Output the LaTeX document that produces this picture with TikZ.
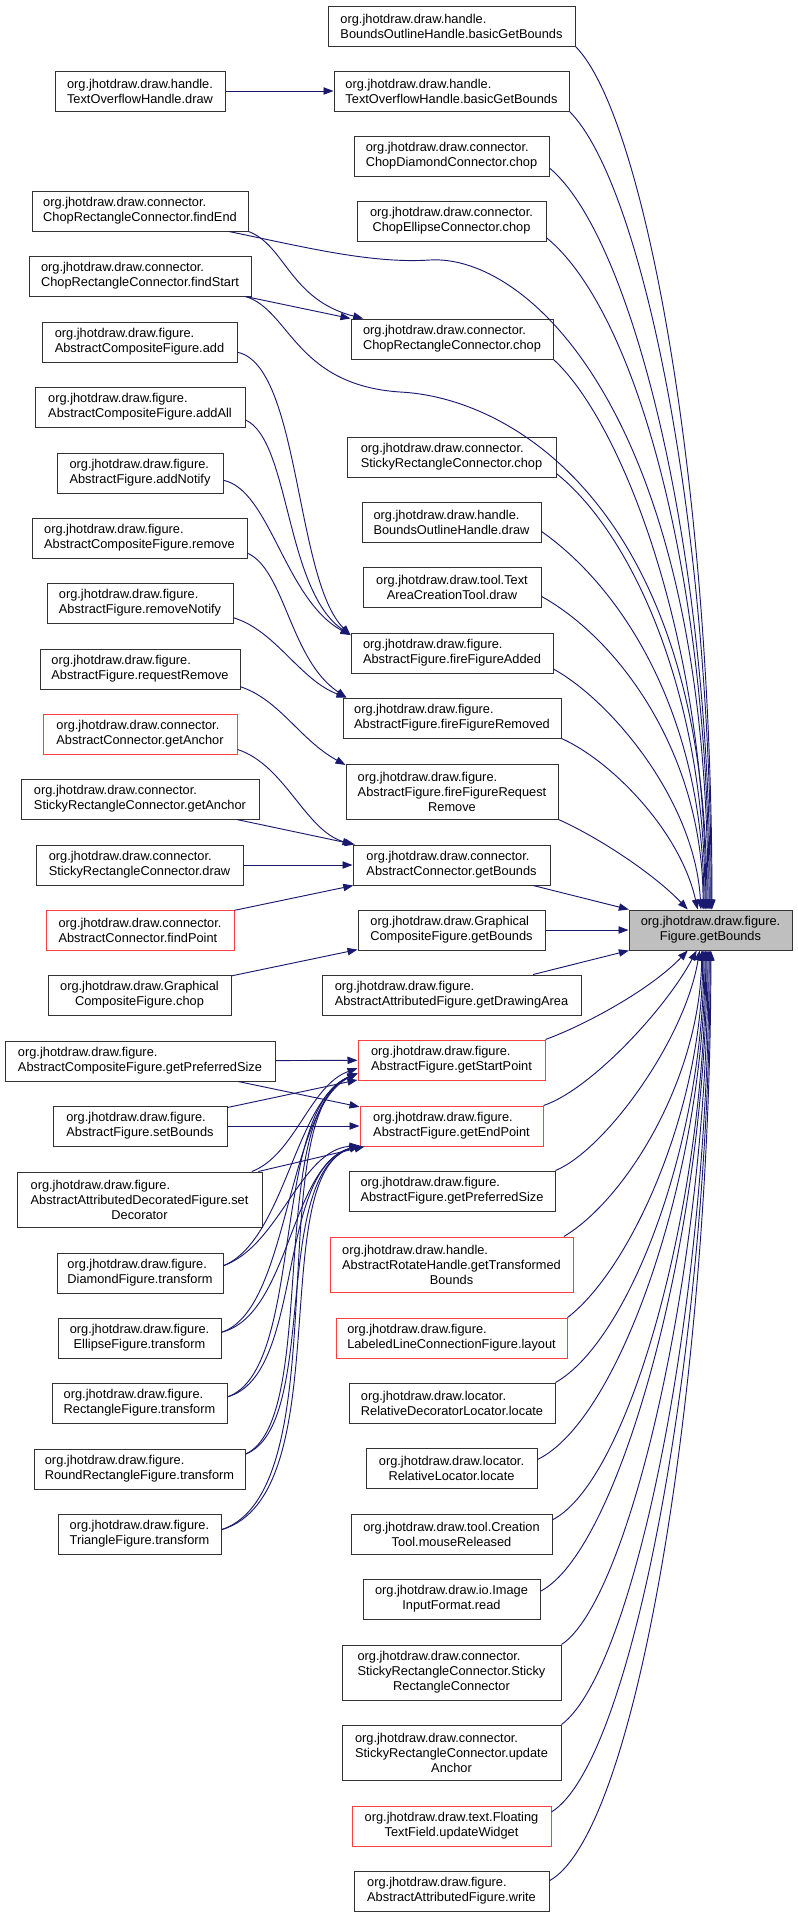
\documentclass[tikz,border=0pt]{standalone}
\usepackage{fontspec}
\setmainfont{Liberation Sans}
\usetikzlibrary{arrows.meta}

\definecolor{edgeblue}{HTML}{191970}
\definecolor{boxred}{HTML}{FF4040}
\definecolor{boxgray}{HTML}{BFBFBF}

\begin{document}
\begin{tikzpicture}[x=0.75pt, y=-0.75pt,
  fn/.style={draw=black!80, line width=0.75pt, fill=white, align=left, inner sep=0pt, minimum height=30pt, font=\fontsize{9.6}{11.25}\selectfont},
  fnred/.style={fn, draw=boxred},
  fnroot/.style={fn, fill=boxgray},
  call/.style={edgeblue, line width=0.7pt, -{Triangle[length=7.5pt,width=5.5pt]}}]

\useasboundingbox (0,0) rectangle (797,1917);

\node[fn, minimum width=185.25pt] (bohbgb) at (451.5,26) {org.jhotdraw.draw.handle.\\BoundsOutlineHandle.basicGetBounds};
\node[fn, minimum width=176.25pt] (tohbgb) at (451.5,91) {org.jhotdraw.draw.handle.\\TextOverflowHandle.basicGetBounds};
\node[fn, minimum width=127.5pt] (tohd) at (140,91) {org.jhotdraw.draw.handle.\\TextOverflowHandle.draw};
\node[fn, minimum width=146.25pt] (cdc) at (451.5,156) {org.jhotdraw.draw.connector.\\ChopDiamondConnector.chop};
\node[fn, minimum width=141.75pt] (cec) at (451.5,221) {org.jhotdraw.draw.connector.\\\hfil ChopEllipseConnector.chop};
\node[fn, minimum width=162pt] (crcfe) at (140,211) {org.jhotdraw.draw.connector.\\ChopRectangleConnector.findEnd};
\node[fn, minimum width=166.5pt] (crcfs) at (140,276) {org.jhotdraw.draw.connector.\\ChopRectangleConnector.findStart};
\node[fn, minimum width=151.5pt] (crcc) at (452,339) {org.jhotdraw.draw.connector.\\ChopRectangleConnector.chop};
\node[fn, minimum width=146.25pt] (acfadd) at (139.5,342) {org.jhotdraw.draw.figure.\\AbstractCompositeFigure.add};
\node[fn, minimum width=157.5pt] (acfaddall) at (140,407) {org.jhotdraw.draw.figure.\\AbstractCompositeFigure.addAll};
\node[fn, minimum width=156.75pt] (srcc) at (451.5,457) {org.jhotdraw.draw.connector.\\StickyRectangleConnector.chop};
\node[fn, minimum width=124.5pt] (afaddn) at (140,473) {org.jhotdraw.draw.figure.\\AbstractFigure.addNotify};
\node[fn, minimum width=134.25pt] (bohd) at (451.5,522) {org.jhotdraw.draw.handle.\\BoundsOutlineHandle.draw};
\node[fn, minimum width=161.25pt] (acfrem) at (139.5,538) {org.jhotdraw.draw.figure.\\AbstractCompositeFigure.remove};
\node[fn, minimum width=133.5pt] (tactd) at (452,587) {org.jhotdraw.draw.tool.Text\\\hfil AreaCreationTool.draw};
\node[fn, minimum width=139.5pt] (afremn) at (140,603) {org.jhotdraw.draw.figure.\\AbstractFigure.removeNotify};
\node[fn, minimum width=151.5pt] (afffa) at (452,653) {org.jhotdraw.draw.figure.\\AbstractFigure.fireFigureAdded};
\node[fn, minimum width=150pt] (afreqrem) at (140,669) {org.jhotdraw.draw.figure.\\AbstractFigure.requestRemove};
\node[fn, minimum width=163.5pt] (afffr) at (452,718) {org.jhotdraw.draw.figure.\\AbstractFigure.fireFigureRemoved};
\node[fnred, minimum width=145.5pt] (acga) at (140,734) {org.jhotdraw.draw.connector.\\AbstractConnector.getAnchor};
\node[fn, minimum width=159pt, minimum height=41.25pt] (afffrr) at (452,791.5) {org.jhotdraw.draw.figure.\\AbstractFigure.fireFigureRequest\\\hfil Remove};
\node[fn, minimum width=178.5pt] (srcga) at (140,799) {org.jhotdraw.draw.connector.\\StickyRectangleConnector.getAnchor};
\node[fn, minimum width=147.75pt] (acgb) at (451.5,865) {org.jhotdraw.draw.connector.\\AbstractConnector.getBounds};
\node[fn, minimum width=155.25pt] (srcd) at (139.5,865) {org.jhotdraw.draw.connector.\\StickyRectangleConnector.draw};
\node[fnred, minimum width=141pt] (acfp) at (140,930) {org.jhotdraw.draw.connector.\\AbstractConnector.findPoint};
\node[fn, minimum width=140.25pt] (gcfgb) at (451.5,930) {org.jhotdraw.draw.Graphical\\CompositeFigure.getBounds};
\node[fnroot, minimum width=122.25pt] (fgb) at (710.5,930) {org.jhotdraw.draw.figure.\\\hfil Figure.getBounds};
\node[fn, minimum width=137.25pt] (gcfc) at (139.5,995) {org.jhotdraw.draw.Graphical\\\hfil CompositeFigure.chop};
\node[fn, minimum width=194.25pt] (afgda) at (451.5,995) {org.jhotdraw.draw.figure.\\AbstractAttributedFigure.getDrawingArea};
\node[fn, minimum width=202.5pt] (acfgps) at (140,1061) {org.jhotdraw.draw.figure.\\AbstractCompositeFigure.getPreferredSize};
\node[fnred, minimum width=140.25pt] (afgsp) at (451.5,1060) {org.jhotdraw.draw.figure.\\AbstractFigure.getStartPoint};
\node[fn, minimum width=130.5pt] (afsb) at (140,1126) {org.jhotdraw.draw.figure.\\AbstractFigure.setBounds};
\node[fnred, minimum width=137.25pt] (afgep) at (451.5,1126) {org.jhotdraw.draw.figure.\\AbstractFigure.getEndPoint};
\node[fn, minimum width=183.75pt, minimum height=41.25pt] (aadfsd) at (139.5,1199.5) {org.jhotdraw.draw.figure.\\AbstractAttributedDecoratedFigure.set\\\hfil Decorator};
\node[fn, minimum width=154.5pt] (afgps) at (452,1191) {org.jhotdraw.draw.figure.\\AbstractFigure.getPreferredSize};
\node[fnred, minimum width=182.25pt, minimum height=41.25pt] (arhgtb) at (451.5,1264.5) {org.jhotdraw.draw.handle.\\AbstractRotateHandle.getTransformed\\\hfil Bounds};
\node[fn, minimum width=124.5pt] (dft) at (140,1273) {org.jhotdraw.draw.figure.\\DiamondFigure.transform};
\node[fn, minimum width=122.25pt] (eft) at (139.5,1338) {org.jhotdraw.draw.figure.\\\hfil EllipseFigure.transform};
\node[fnred, minimum width=173.25pt] (llcfl) at (451.5,1338) {org.jhotdraw.draw.figure.\\LabeledLineConnectionFigure.layout};
\node[fn, minimum width=131.25pt] (rft) at (139.5,1403) {org.jhotdraw.draw.figure.\\RectangleFigure.transform};
\node[fn, minimum width=154.5pt] (rdll) at (452,1403) {org.jhotdraw.draw.locator.\\RelativeDecoratorLocator.locate};
\node[fn, minimum width=158.25pt] (rrft) at (139.5,1469) {org.jhotdraw.draw.figure.\\RoundRectangleFigure.transform};
\node[fn, minimum width=128.25pt] (rll) at (451.5,1468.5) {org.jhotdraw.draw.locator.\\\hfil RelativeLocator.locate};
\node[fn, minimum width=122.25pt] (tft) at (139.5,1534) {org.jhotdraw.draw.figure.\\\hfil TriangleFigure.transform};
\node[fn, minimum width=150.75pt] (ctmr) at (451.5,1534) {org.jhotdraw.draw.tool.Creation\\\hfil Tool.mouseReleased};
\node[fn, minimum width=132.75pt] (iifr) at (451.5,1599) {org.jhotdraw.draw.io.Image\\\hfil InputFormat.read};
\node[fn, minimum width=164.25pt, minimum height=41.25pt] (srcsrc) at (451.5,1672.5) {org.jhotdraw.draw.connector.\\StickyRectangleConnector.Sticky\\\hfil RectangleConnector};
\node[fn, minimum width=164.25pt, minimum height=41.25pt] (srcua) at (451.5,1752.5) {org.jhotdraw.draw.connector.\\StickyRectangleConnector.update\\\hfil Anchor};
\node[fnred, minimum width=149.25pt] (ftfuw) at (451.5,1826) {org.jhotdraw.draw.text.Floating\\\hfil TextField.updateWidget};
\node[fn, minimum width=146.25pt] (aafw) at (451.5,1891) {org.jhotdraw.draw.figure.\\AbstractAttributedFigure.write};

\draw[call] (tohd) -- (tohbgb);
\draw[call] (crcfe.south east) .. controls (285,245) and (290,300) .. (crcc.167);
\draw[call] (crcfs.-11) -- (crcc.north west);
\draw[call] (acfadd.-6) .. controls (300,365) and (295,580) .. (afffa.170);
\draw[call] (acfaddall.-7) .. controls (290,440) and (285,590) .. (afffa.170);
\draw[call] (afaddn.-5) .. controls (270,490) and (285,600) .. (afffa.170);
\draw[call] (acfrem.-8) .. controls (285,570) and (290,660) .. (afffr.169);
\draw[call] (afremn.-9) .. controls (275,630) and (300,680) .. (afffr.169);
\draw[call] (afreqrem.-10) .. controls (280,700) and (300,740) .. (afffrr.166);
\draw[call] (acga.-9) .. controls (285,765) and (305,830) .. (acgb.north west);
\draw[call] (srcga) -- (acgb);
\draw[call] (srcd) -- (acgb);
\draw[call] (acfp) -- (acgb);
\draw[call] (gcfc) -- (gcfgb);
\draw[call] (acfgps) -- (afgsp);
\draw[call] (acfgps) -- (afgep);
\draw[call] (afsb) -- (afgsp);
\draw[call] (afsb) -- (afgep);
\draw[call] (aadfsd.14) .. controls (295,1155) and (310,1085) .. (afgsp.185);
\draw[call] (aadfsd) -- (afgep);
\draw[call] (dft.5) .. controls (285,1240) and (295,1100) .. (afgsp.188);
\draw[call] (dft.5) .. controls (280,1245) and (300,1150) .. (afgep.192);
\draw[call] (eft.4) .. controls (290,1310) and (285,1110) .. (afgsp.188);
\draw[call] (eft.4) .. controls (290,1315) and (290,1165) .. (afgep.192);
\draw[call] (rft.4) .. controls (305,1370) and (270,1110) .. (afgsp.188);
\draw[call] (rft.4) .. controls (305,1375) and (275,1170) .. (afgep.192);
\draw[call] (rrft.8) .. controls (320,1420) and (265,1115) .. (afgsp.188);
\draw[call] (rrft.8) .. controls (320,1425) and (270,1175) .. (afgep.192);
\draw[call] (tft.3) .. controls (340,1490) and (260,1115) .. (afgsp.188);
\draw[call] (tft.3) .. controls (340,1495) and (265,1175) .. (afgep.192);

\draw[call] (bohbgb.south east) .. controls (643,114) and (712,478) .. (fgb.86);
\draw[call] (tohbgb.south east) .. controls (640,182) and (711,510) .. (fgb.88);
\draw[call] (cdc.-7) .. controls (630,235) and (710,540) .. (fgb.91);
\draw[call] (cec.-10) .. controls (636,311) and (709,574) .. (fgb.94);
\draw[call] (crcfe.-13) .. controls (300,246) and (370,264) .. (430,260) .. controls (530,254) and (708,420) .. (fgb.97);
\draw[call] (crcfs.-11) .. controls (290,310) and (295,385) .. (400,392) .. controls (520,398) and (707,520) .. (fgb.100);
\draw[call] (crcc.south east) .. controls (620,420) and (706,635) .. (fgb.103);
\draw[call] (srcc.-9) .. controls (631,533) and (705,692) .. (fgb.105);
\draw[call] (bohd.-6) .. controls (626,591) and (704,720) .. (fgb.108);
\draw[call] (tactd.-6) .. controls (620,640) and (703,755) .. (fgb.110);
\draw[call] (afffa.-9) .. controls (610,700) and (695,800) .. (fgb.115);
\draw[call] (afffr.south east) .. controls (610,760) and (680,830) .. (fgb.122);
\draw[call] (afffrr.south east) .. controls (600,838) and (655,875) .. (fgb.138);
\draw[call] (acgb) -- (fgb);
\draw[call] (gcfgb) -- (fgb);
\draw[call] (afgda) -- (fgb);
\draw[call] (afgsp.north east) .. controls (585,1025) and (650,990) .. (fgb.-138);
\draw[call] (afgep.north east) .. controls (590,1090) and (665,1010) .. (fgb.-124);
\draw[call] (afgps.north east) .. controls (605,1150) and (685,1040) .. (fgb.-118);
\draw[call] (arhgtb.14) .. controls (625,1200) and (700,1080) .. (fgb.-113);
\draw[call] (llcfl.north east) .. controls (630,1270) and (703,1110) .. (fgb.-111);
\draw[call] (rdll.north east) .. controls (630,1340) and (704,1140) .. (fgb.-108);
\draw[call] (rll.6) .. controls (620,1420) and (705,1170) .. (fgb.-105);
\draw[call] (ctmr.8) .. controls (630,1480) and (706,1200) .. (fgb.-103);
\draw[call] (iifr.5) .. controls (620,1550) and (707,1230) .. (fgb.-100);
\draw[call] (srcsrc.north east) .. controls (630,1600) and (708,1260) .. (fgb.-97);
\draw[call] (srcua.north east) .. controls (635,1670) and (709,1300) .. (fgb.-94);
\draw[call] (ftfuw.8) .. controls (635,1760) and (710,1330) .. (fgb.-91);
\draw[call] (aafw.6) .. controls (640,1830) and (711,1360) .. (fgb.-89);

\end{tikzpicture}
\end{document}
